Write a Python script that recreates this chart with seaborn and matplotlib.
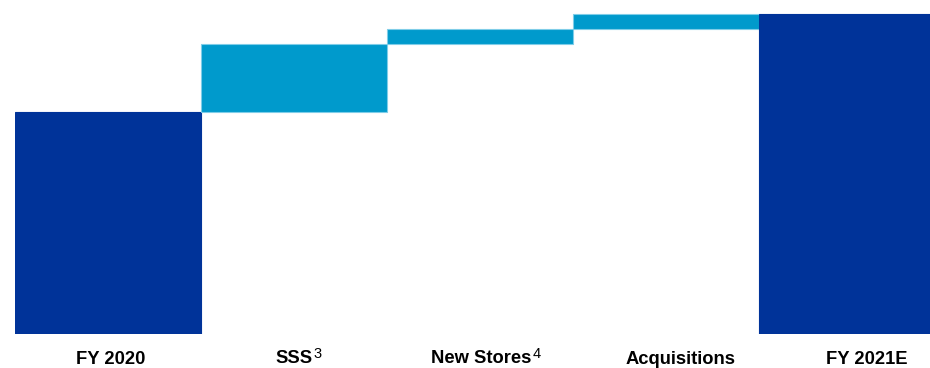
import matplotlib
matplotlib.use("Agg")
import matplotlib.pyplot as plt
import seaborn as sns
import numpy as np

# ---- data ----
categories = ["FY 2020", "SSS", "New Stores", "Acquisitions", "FY 2021E"]
labels = ["FY 2020", "SSS", "New Stores", "Acquisitions", "FY 2021E"]
footnotes = ["", "3", "4", "", ""]
start_value = 222.0
changes = [68.0, 15.0, 15.5]
end_value = 320.5
kinds = ["total", "delta", "delta", "delta", "total"]

# ---- styling ----
dark = "#003399"
light = "#009ACC"
light_edge = "#7FCDE8"
label_dx = [0.016, 0.0, 0.008, 0.08, 0.078]
label_y = [-30, -29, -29, -30, -30]

sns.set_theme(style="white")
plt.rcParams["font.family"] = ["Liberation Sans", "DejaVu Sans"]

# waterfall geometry from the data
heights = [start_value] + changes + [end_value]
bottoms = [0.0]
running = start_value
for c in changes:
    bottoms.append(running)
    running += c
bottoms.append(0.0)
facecolors = [dark if k == "total" else light for k in kinds]
edgecolors = [dark if k == "total" else light_edge for k in kinds]

fig = plt.figure(figsize=(9.30, 3.68), dpi=100)
ax = fig.add_axes([15 / 930, 34 / 368, 1.0, 334 / 368])

sns.barplot(x=categories, y=heights, order=categories, width=1.0,
            bottom=bottoms, color=light, saturation=1,
            linewidth=0.8, errorbar=None, ax=ax)

for p, fc, ec in zip(ax.patches, facecolors, edgecolors):
    p.set_facecolor(fc)
    p.set_edgecolor(ec)

ax.set_xlim(-0.5, 4.5)
ax.set_ylim(0, 334)
for s in ax.spines.values():
    s.set_visible(False)
ax.set_xticks([])
ax.set_yticks([])
ax.set_xlabel("")
ax.set_ylabel("")
ax.set_facecolor("none")

for i, lab in enumerate(labels):
    t = ax.text(i + label_dx[i], label_y[i], lab, ha="center", va="baseline",
                fontsize=13.2, fontweight="bold", color="black", clip_on=False)
    if footnotes[i]:
        ax.annotate(footnotes[i], xy=(1.0, label_y[i] + 5.5),
                    xycoords=(t, "data"), xytext=(0.5, 0),
                    textcoords="offset pixels", ha="left", va="baseline",
                    fontsize=10.5, fontweight="normal", color="black",
                    annotation_clip=False)

fig.savefig("out.png", dpi=100, facecolor="white")
